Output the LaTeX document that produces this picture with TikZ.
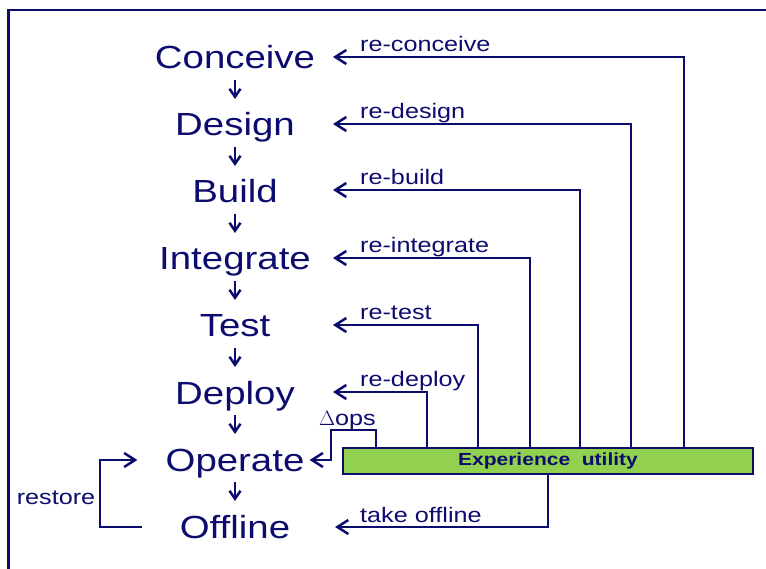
\documentclass[tikz,border=0pt]{standalone}
\usepackage{fontspec}
\setmainfont{Liberation Sans}
\newfontfamily\widefont[FakeStretch=1.2]{Liberation Sans}
\usetikzlibrary{arrows.meta}
\definecolor{navy}{RGB}{12,12,110}
\definecolor{exgreen}{RGB}{146,208,80}
\tikzset{
  stage/.style={text=navy, inner sep=0pt, anchor=base, font=\widefont\fontsize{32}{36}\selectfont},
  lbl/.style={text=navy, inner sep=0pt, anchor=base west, font=\widefont\fontsize{21}{24}\selectfont},
  flow/.style={draw=navy, line width=2.5pt, -{Straight Barb[length=8pt,width=11pt,line width=2.5pt]}},
  fb/.style={draw=navy, line width=2.5pt, -{Straight Barb[length=11pt,width=14pt,line width=2.5pt]}, line join=miter},
  plain/.style={draw=navy, line width=2.5pt, line join=miter},
  bar/.style={draw=navy, line width=2.5pt, fill=exgreen, minimum width=410pt, minimum height=26pt, inner sep=0pt, text=navy, font=\widefont\fontsize{17.5}{20}\selectfont\bfseries}
}
\begin{document}
\begin{tikzpicture}[x=1pt,y=-1pt]
\useasboundingbox (0,0) rectangle (766,569);
% frame
\draw[plain] (8.5,569) -- (8.5,10) -- (766,10);

% stages
\node[stage] (conceive) at (235,69) {Conceive};
\node[stage] (design)   at (235,136) {Design};
\node[stage] (build)    at (235,203) {Build};
\node[stage] (integrate) at (235,270) {Integrate};
\node[stage] (test)     at (235,337) {Test};
\node[stage] (deploy)   at (235,404) {Deploy};
\node[stage] (operate)  at (235,471) {Operate};
\node[stage] (offline)  at (235,538) {Offline};

\foreach \a/\b in {conceive/design, design/build, build/integrate, integrate/test, test/deploy, deploy/operate, operate/offline}
  \draw[flow] ([yshift=-11pt]\a.base) -- ([yshift=-30pt]\a.base);

% bar
\node[bar] (bar) at (548,461) {Experience\ \ utility};

% tip column
\coordinate (tipcol) at (333,0);

% feedback loops
\draw[fb] (bar.north -| 684,0) |- ([yshift=12pt]conceive.base -| tipcol);
\draw[fb] (bar.north -| 631,0) |- ([yshift=12pt]design.base -| tipcol);
\draw[fb] (bar.north -| 580,0) |- ([yshift=13pt]build.base -| tipcol);
\draw[fb] (bar.north -| 530,0) |- ([yshift=12pt]integrate.base -| tipcol);
\draw[fb] (bar.north -| 478,0) |- ([yshift=12pt]test.base -| tipcol);
\draw[fb] (bar.north -| 427,0) |- ([yshift=12pt]deploy.base -| tipcol);

\node[lbl] (l1) at (360,52) {re-conceive};
\node[lbl] (l2) at (360,119) {re-design};
\node[lbl] (l3) at (360,185) {re-build};
\node[lbl] (l4) at (360,253) {re-integrate};
\node[lbl] (l5) at (360,320) {re-test};
\node[lbl] (l6) at (360,387) {re-deploy};

% delta ops
\draw[fb] (bar.north -| 376,0) |- (331,430) |- ([xshift=5pt,yshift=11pt]operate.base east);
\node[lbl] (dops) at (319,425) {$\Delta$ops};

% take offline
\draw[fb] (bar.south) |- ([yshift=11pt]offline.base -| 335,0);
\node[lbl] (l7) at (360,522) {take offline};

% restore
\coordinate (rc) at (100,0);
\draw[fb] ([xshift=-38pt,yshift=11pt]offline.base west) -| ([yshift=11pt]operate.base -| rc) -- ([xshift=-28pt,yshift=11pt]operate.base west);
\node[lbl, anchor=base] (rest) at (56,504) {restore};
\end{tikzpicture}
\end{document}
